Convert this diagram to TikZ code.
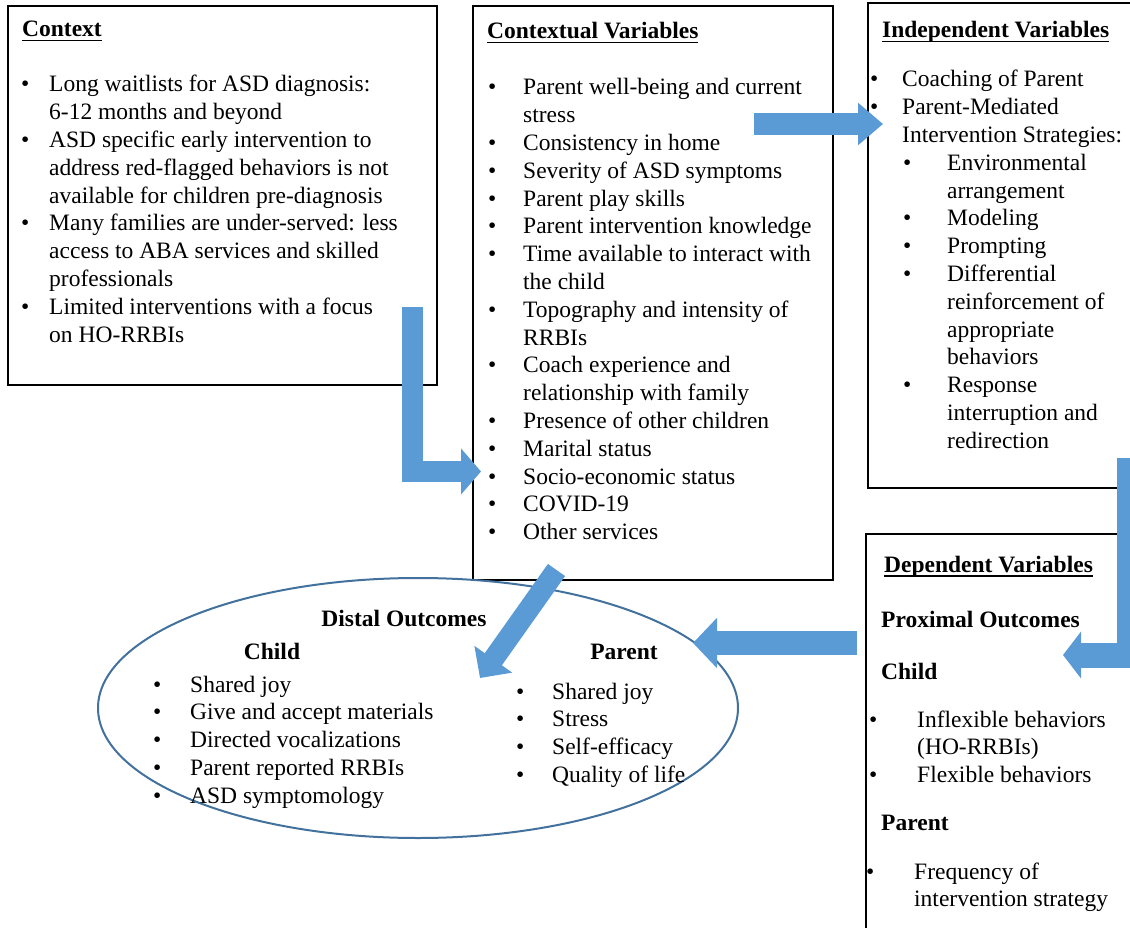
\documentclass[tikz,border=0pt]{standalone}
\usepackage{fontspec}
\setmainfont{Liberation Serif}
\usetikzlibrary{arrows.meta,shapes.geometric}

\definecolor{flowblue}{HTML}{5B9BD5}
\definecolor{ringblue}{HTML}{41719C}

% underlined bold heading, bullet and bullet list
\newcommand{\uhead}[1]{\setbox0\hbox{\textbf{#1}}\rlap{\rule[-4.5pt]{\wd0}{1.5pt}}\box0}
\newcommand{\bu}{\textbullet}
\newcommand{\blist}[2]{\begin{tabular}[t]{@{}p{#1}@{}l@{}}#2\end{tabular}}

\begin{document}
\begin{tikzpicture}[%
        x = 1pt,
        y = -1pt,
        font = \fontsize{23.5}{27.8}\selectfont,
        box/.style = {
            draw = black,
            line width = 2.8pt,
            inner sep = 0pt,
            outer sep = 0pt,
            anchor = north west
        },
        txt/.style = {inner sep = 0pt, anchor = base west},
        ctr/.style = {inner sep = 0pt, anchor = base},
        flow/.style = {draw = flowblue, line width = #1, line join = miter}
    ]

        \useasboundingbox (0,0) rectangle (1130,928);
        \clip (0,0) rectangle (1130,928);

        % The four boxes and the ellipse.
        \node[box, minimum width = 429pt, minimum height = 379pt] (context) at (8,6) {};
        \node[box, minimum width = 360pt, minimum height = 574pt] (convar) at (473,6) {};
        \node[box, minimum width = 272pt, minimum height = 485pt] (indvar) at (868,3) {};
        \node[box, minimum width = 274pt, minimum height = 400pt] (depvar) at (866,534) {};
        \node[draw = ringblue, line width = 2pt, ellipse, inner sep = 0pt,
              minimum width = 640pt, minimum height = 260pt] (distal) at (418,708) {};

        % Context.
        \node[txt] (ctxhead) at (22,37) {\uhead{Context}};
        \node[txt] (ctxlist) at (21,92) {\blist{28pt}{%
            \bu & Long waitlists for ASD diagnosis:\\
                & 6-12 months and beyond\\
            \bu & ASD specific early intervention to\\
                & address red-flagged behaviors is not\\
                & available for children pre-diagnosis\\
            \bu & Many families are under-served: less\\
                & access to ABA services and skilled\\
                & professionals\\
            \bu & Limited interventions with a focus\\
                & on HO-RRBIs}};

        % Contextual variables.
        \node[txt] (cvhead) at (487,39) {\uhead{Contextual Variables}};
        \node[txt] (cvlist) at (488,95) {\blist{35pt}{%
            \bu & Parent well-being and current\\
                & stress\\
            \bu & Consistency in home\\
            \bu & Severity of ASD symptoms\\
            \bu & Parent play skills\\
            \bu & Parent intervention knowledge\\
            \bu & Time available to interact with\\
                & the child\\
            \bu & Topography and intensity of\\
                & RRBIs\\
            \bu & Coach experience and\\
                & relationship with family\\
            \bu & Presence of other children\\
            \bu & Marital status\\
            \bu & Socio-economic status\\
            \bu & COVID-19\\
            \bu & Other services}};

        % Independent variables.
        \node[txt] (ivhead) at (882,38) {\uhead{Independent Variables}};
        \node[txt] (ivlist) at (870,87) {\blist{32pt}{%
            \bu & Coaching of Parent\\
            \bu & Parent-Mediated\\
                & Intervention Strategies:}};
        \node[txt] (ivsub) at (903,170.4) {\blist{44pt}{%
            \bu & Environmental\\
                & arrangement\\
            \bu & Modeling\\
            \bu & Prompting\\
            \bu & Differential\\
                & reinforcement of\\
                & appropriate\\
                & behaviors\\
            \bu & Response\\
                & interruption and\\
                & redirection}};

        % Dependent variables.
        \node[txt] (dvhead) at (884,572) {\uhead{Dependent Variables}};
        \node[txt] (proximal) at (881,627) {\textbf{Proximal Outcomes}};
        \node[txt] (pchild) at (881,679) {\textbf{Child}};
        \node[txt] (pchildlist) at (869,727) {\blist{48pt}{%
            \bu & Inflexible behaviors\\
                & (HO-RRBIs)\\
            \bu & Flexible behaviors}};
        \node[txt] (pparent) at (881,830) {\textbf{Parent}};
        \node[txt] (pparentlist) at (866,879) {\blist{48pt}{%
            \bu & Frequency of\\
                & intervention strategy}};

        % Distal outcomes.
        \node[ctr] (dhead) at (404,626) {\textbf{Distal Outcomes}};
        \node[ctr] (dchild) at (272,659) {\textbf{Child}};
        \node[txt] (dchildlist) at (153,692) {\blist{37pt}{%
            \bu & Shared joy\\
            \bu & Give and accept materials\\
            \bu & Directed vocalizations\\
            \bu & Parent reported RRBIs\\
            \bu & ASD symptomology}};
        \node[ctr] (dparent) at (624,659) {\textbf{Parent}};
        \node[txt] (dparentlist) at (516,699) {\blist{36pt}{%
            \bu & Shared joy\\
            \bu & Stress\\
            \bu & Self-efficacy\\
            \bu & Quality of life}};

        % Ends and bends of the block arrows.
        \coordinate (ctxout) at (412,307);
        \coordinate (ctxbend) at (412,471.5);
        \coordinate (cvin) at (481,471.5);
        \coordinate (cvout) at (754,124);
        \coordinate (ivin) at (883,124);
        \coordinate (ivout) at (1129.5,458);
        \coordinate (ivbend) at (1129.5,655);
        \coordinate (dvin) at (1063,655);
        \coordinate (dvout) at (857,643);
        \coordinate (distalin) at (693,643);
        \coordinate (cvdown) at (556.5,570);
        \coordinate (distaltop) at (480,678);

        % Block arrows.
        \draw[flow = 21pt, -{Triangle[length = 20pt, width = 45pt]}]
            (ctxout) -- (ctxbend) -- (cvin);
        \draw[flow = 22pt, -{Triangle[length = 25pt, width = 41pt]}]
            (cvout) -- (ivin);
        \draw[flow = 25pt, -{Triangle[length = 18pt, width = 46pt]}]
            (ivout) -- (ivbend) -- (dvin);
        \draw[flow = 24pt, -{Triangle[length = 24pt, width = 49pt]}]
            (dvout) -- (distalin);
        \draw[flow = 21pt, -{Triangle[length = 23pt, width = 45pt]}]
            (cvdown) -- (distaltop);
    \end{tikzpicture}
\end{document}
